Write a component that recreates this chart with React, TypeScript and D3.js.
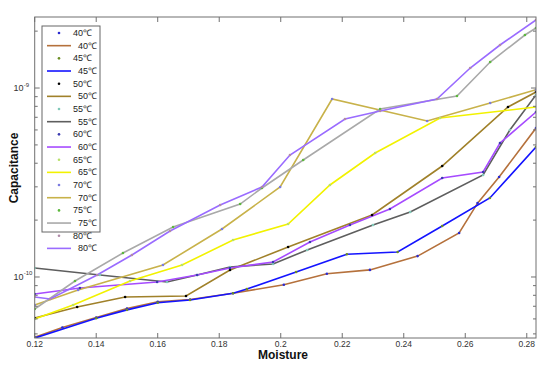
import * as d3 from "d3";

// capacitance values are in units of 1e-10 F
const UNIT = 1e-10;

const temps = ["40℃", "45℃", "50℃", "55℃", "60℃", "65℃", "70℃", "75℃", "80℃"];
const lineColors = ["#b5713c", "#1414ff", "#a0812a", "#5e5e5e", "#a64bff", "#f2f200", "#c8b24a", "#a9a9a9", "#9a6cff"];
const dotColors = ["#2b2bd0", "#6b8e23", "#000000", "#80c8b8", "#3b3bb0", "#b8e06a", "#7b7be0", "#5cb83c", "#b08aa8"];

const m40 = [0.12, 0.129, 0.14, 0.15, 0.16, 0.1705, 0.1845, 0.201, 0.215, 0.229, 0.2445, 0.258, 0.264, 0.271, 0.283];
const c40 = [0.48, 0.54, 0.61, 0.68, 0.74, 0.76, 0.82, 0.91, 1.04, 1.09, 1.29, 1.71, 2.46, 3.38, 6.14];
const m45 = [0.12, 0.14, 0.15, 0.16, 0.1705, 0.1845, 0.189, 0.205, 0.2215, 0.238, 0.2525, 0.268, 0.283];
const c45 = [0.475, 0.605, 0.67, 0.73, 0.755, 0.82, 0.864, 1.063, 1.32, 1.356, 1.86, 2.62, 4.87];
const m50 = [0.12, 0.1338, 0.1494, 0.1692, 0.1835, 0.2024, 0.2297, 0.2525, 0.2739, 0.283];
const c50 = [0.607, 0.694, 0.784, 0.793, 1.089, 1.441, 2.128, 3.866, 7.934, 9.524];
const m55 = [0.12, 0.1412, 0.163, 0.1728, 0.1835, 0.1975, 0.2086, 0.23, 0.2421, 0.2658, 0.2745, 0.283];
const c55 = [1.116, 1.025, 0.941, 1.025, 1.13, 1.172, 1.39, 1.884, 2.207, 3.466, 5.995, 9.2];
const m60 = [0.12, 0.1347, 0.1598, 0.1728, 0.1835, 0.1975, 0.2095, 0.2225, 0.2355, 0.2525, 0.2658, 0.2713, 0.283];
const c60 = [0.813, 0.875, 0.941, 1.025, 1.116, 1.2, 1.532, 1.884, 2.29, 3.341, 3.594, 5.117, 7.465];
const m65 = [0.12, 0.1325, 0.151, 0.1679, 0.1845, 0.2024, 0.216, 0.2307, 0.2518, 0.283];
const c65 = [0.599, 0.711, 0.952, 1.157, 1.57, 1.907, 3.068, 4.531, 6.939, 7.934];
const m70 = [0.12, 0.1341, 0.1617, 0.1809, 0.1998, 0.2167, 0.2476, 0.2681, 0.283];
const c70 = [0.711, 0.853, 1.157, 1.795, 2.994, 8.745, 6.69, 8.329, 9.8];
const m75 = [0.12, 0.1331, 0.1487, 0.165, 0.1868, 0.1939, 0.2073, 0.2323, 0.2573, 0.2681, 0.2794, 0.283];
const c75 = [0.677, 0.952, 1.34, 1.839, 2.433, 2.958, 4.159, 7.743, 9.071, 13.73, 19.08, 20.78];
const m80 = [0.12, 0.125, 0.1403, 0.1516, 0.164, 0.1803, 0.1939, 0.203, 0.2209, 0.2323, 0.2508, 0.2616, 0.2713, 0.283];
const c80 = [0.784, 0.765, 1.025, 1.307, 1.752, 2.404, 2.994, 4.422, 6.855, 7.556, 8.745, 12.76, 16.89, 22.9];

const moistures = [m40, m45, m50, m55, m60, m65, m70, m75, m80];
const capacitances = [c40, c45, c50, c55, c60, c65, c70, c75, c80];

const xTicks = [0.12, 0.14, 0.16, 0.18, 0.2, 0.22, 0.24, 0.26, 0.28];
const xTickLabels = ["0.12", "0.14", "0.16", "0.18", "0.2", "0.22", "0.24", "0.26", "0.28"];
const yMajor = [1e-10, 1e-9];
const yMajorExp = ["-10", "-9"];
const yMinor = [5e-11, 6e-11, 7e-11, 8e-11, 9e-11, 2e-10, 3e-10, 4e-10, 5e-10, 6e-10, 7e-10, 8e-10, 9e-10, 2e-9];

export default function App() {
  const width = 550;
  const height = 367;
  const left = 34.7, right = 536, top = 17, bottom = 338;

  const x = d3.scaleLinear().domain([0.12, 0.283]).range([left, right]);
  const y = d3.scaleLog().domain([0.4755e-10, 23.76e-10]).range([bottom, top]);

  const line = d3
    .line<[number, number]>()
    .x((d) => x(d[0]))
    .y((d) => y(d[1]));

  const series = temps.map((t, i) => ({
    temp: t,
    pts: moistures[i].map((m, j) => [m, capacitances[i][j] * UNIT] as [number, number]),
  }));

  const tickFont = "Liberation Sans, Arial, sans-serif";
  const frame = "#707070";

  const legTop = 33;
  const legStep = 12.67;

  return (
    <svg
      width={width}
      height={height}
      style={{ position: "absolute", left: 0, top: 0, background: "#fff" }}
      fontFamily={tickFont}
    >
      <rect x={0} y={0} width={width} height={height} fill="#fff" />
      <defs>
        <clipPath id="plotClip">
          <rect x={left} y={top} width={right - left} height={bottom - top} />
        </clipPath>
      </defs>

      {/* data lines */}
      <g clipPath="url(#plotClip)">
        {series.map((s, i) => (
          <path key={s.temp} d={line(s.pts) || ""} fill="none" stroke={lineColors[i]} strokeWidth={1.6} />
        ))}
        {series.map((s, i) =>
          s.pts.map((p, j) => (
            <circle key={s.temp + j} cx={x(p[0])} cy={y(p[1])} r={1.3} fill={dotColors[i]} />
          ))
        )}
      </g>

      {/* frame */}
      <rect x={left} y={top} width={right - left} height={bottom - top} fill="none" stroke={frame} strokeWidth={1} />

      {/* x ticks */}
      {xTicks.map((v, i) => (
        <g key={"xt" + i}>
          <line x1={x(v)} x2={x(v)} y1={bottom} y2={bottom - 5} stroke={frame} />
          <line x1={x(v)} x2={x(v)} y1={top} y2={top + 5} stroke={frame} />
          <text x={x(v)} y={346.5} fontSize={8.5} fill="#333" textAnchor="middle">
            {xTickLabels[i]}
          </text>
        </g>
      ))}

      {/* y ticks */}
      {yMajor.map((v, i) => (
        <g key={"yt" + i}>
          <line x1={left} x2={left + 5} y1={y(v)} y2={y(v)} stroke={frame} />
          <line x1={right} x2={right - 5} y1={y(v)} y2={y(v)} stroke={frame} />
          <text x={23.5} y={y(v) + 3} fontSize={9} fill="#333" textAnchor="end">
            10
          </text>
          <text x={23.7} y={y(v) - 1.5} fontSize={6} fill="#333">
            {yMajorExp[i]}
          </text>
        </g>
      ))}
      {yMinor.map((v, i) => (
        <g key={"ym" + i}>
          <line x1={left} x2={left + 3} y1={y(v)} y2={y(v)} stroke={frame} />
          <line x1={right} x2={right - 3} y1={y(v)} y2={y(v)} stroke={frame} />
        </g>
      ))}

      {/* axis titles */}
      <text x={283} y={359} fontSize={12} fontWeight="bold" textAnchor="middle" fill="#111">
        Moisture
      </text>
      <text
        transform="translate(18,168) rotate(-90)"
        fontSize={12}
        fontWeight="bold"
        textAnchor="middle"
        fill="#111"
      >
        Capacitance
      </text>

      {/* legend */}
      <rect x={42} y={26} width={58} height={206} fill="#fff" stroke="#666" strokeWidth={1} />
      {temps.map((t, i) => {
        const yd = legTop + 2 * i * legStep;
        const yl = yd + legStep;
        return (
          <g key={"lg" + i}>
            <circle cx={59} cy={yd} r={1.3} fill={dotColors[i]} />
            <text x={73} y={yd + 3} fontSize={9} fill="#222">
              {t}
            </text>
            <line x1={47} x2={71} y1={yl} y2={yl} stroke={lineColors[i]} strokeWidth={1.6} />
            <text x={78} y={yl + 3} fontSize={9} fill="#222">
              {t}
            </text>
          </g>
        );
      })}
    </svg>
  );
}
